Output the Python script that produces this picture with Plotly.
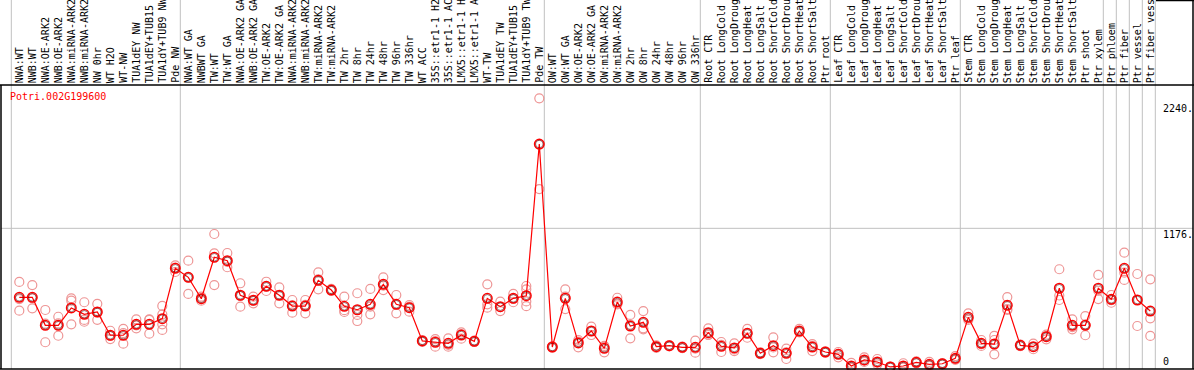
import plotly.graph_objects as go

categories = [
    "NWA:WT", "NWB:WT", "NWA:OE-ARK2", "NWB:OE-ARK2", "NWA:miRNA-ARK2", "NWB:miRNA-ARK2",
    "NW 0hr", "WT H2O", "WT-NW", "TUA1dEY NW", "TUA1dEY+TUB15", "TUA1dY+TUB9 NW", "Pde NW",
    "NWA:WT GA", "NWBWT GA", "TW:WT", "TW:WT GA", "NWA:OE-ARK2 GA", "NWB:OE-ARK2 GA",
    "TW:OE-ARK2", "TW:OE-ARK2 GA", "NWA:miRNA-ARK2", "NWB:miRNA-ARK2", "TW:miRNA-ARK2",
    "TW:miRNA-ARK2", "TW 2hr", "TW 8hr", "TW 24hr", "TW 48hr", "TW 96hr", "TW 336hr",
    "WT ACC", "35S::etr1-1 H2O", "35S::etr1-1 ACC", "LMX5::etr1-1 H2O", "LMX5::etr1-1 ACC",
    "WT-TW", "TUA1dEY TW", "TUA1dEY+TUB15", "TUA1dY+TUB9 TW", "Pde TW",
    "OW:WT", "OW:WT GA", "OW:OE-ARK2", "OW:OE-ARK2 GA", "OW:miRNA-ARK2", "OW:miRNA-ARK2",
    "OW 2hr", "OW 8hr", "OW 24hr", "OW 48hr", "OW 96hr", "OW 336hr",
    "Root CTR", "Root LongCold", "Root LongDrought", "Root LongHeat", "Root LongSalt",
    "Root ShortCold", "Root ShortDrought", "Root ShortHeat", "Root ShortSalt", "Ptr root",
    "Leaf CTR", "Leaf LongCold", "Leaf LongDrought", "Leaf LongHeat", "Leaf LongSalt",
    "Leaf ShortCold", "Leaf ShortDrought", "Leaf ShortHeat", "Leaf ShortSalt", "Ptr leaf",
    "Stem CTR", "Stem LongCold", "Stem LongDrought", "Stem LongHeat", "Stem LongSalt",
    "Stem ShortCold", "Stem ShortDrought", "Stem ShortHeat", "Stem ShortSalt", "Ptr shoot",
    "Ptr xylem", "Ptr phloem", "Ptr fiber", "Ptr vessel", "Ptr fiber vessel",
]

means = [
    595, 595, 359, 359, 505, 451, 471, 275, 275, 367, 367, 415, 839,
    763, 583, 932, 903, 612, 570, 687, 612, 521, 521, 738, 656, 519, 490, 536, 704, 536, 507,
    227, 216, 207, 277, 224, 586, 516, 586, 608, 1886,
    176, 586, 210, 311, 165, 555, 353, 384, 179, 187, 173, 173,
    297, 182, 168, 291, 123, 187, 123, 311, 176, 134,
    114, 16, 67, 50, 8, 16, 47, 30, 35, 81,
    426, 207, 201, 527, 190, 179, 263, 671, 359, 359,
    671, 578, 839, 572, 479,
]

replicates = [
    [724, 482, 580], [698, 502, 585], [488, 216, 373], [431, 271, 375],
    [586, 566, 367], [553, 404, 389], [540, 468, 405], [313, 243, 269],
    [328, 204, 293], [409, 333, 359], [409, 288, 404], [522, 451, 367, 320],
    [864, 845, 808],
    [903, 623, 763], [600, 583, 566], [1128, 965, 698], [968, 848, 893],
    [713, 516, 607], [600, 544, 566], [726, 648, 687], [679, 544, 613],
    [572, 465, 526], [572, 460, 531], [805, 662, 747], [665, 656, 648],
    [600, 471, 486], [629, 446, 395], [665, 516, 451], [763, 656, 693],
    [614, 460, 534], [530, 474, 517], [235, 227, 219], [243, 179, 226],
    [249, 179, 193], [300, 246, 285], [230, 224, 218], [704, 536, 507],
    [558, 479, 511], [623, 553, 582], [690, 662, 560, 520], [2271, 1880, 1507],
    [182, 176, 170], [662, 496, 600], [235, 173, 221], [347, 277, 309],
    [185, 131, 179], [591, 536, 539], [446, 249, 364], [479, 333, 325],
    [190, 179, 168], [193, 187, 181], [180, 173, 166], [229, 128, 162],
    [333, 277, 281], [218, 134, 194], [207, 142, 155], [328, 254, 291],
    [130, 123, 116], [258, 131, 172], [162, 75, 132], [328, 300, 305],
    [201, 142, 185], [140, 134, 128],
    [134, 89, 119], [42, 6, 0], [89, 50, 62], [75, 30, 45], [12, 8, 4],
    [39, 5, 4], [55, 47, 39], [50, 16, 24], [40, 35, 30], [100, 67, 76],
    [460, 404, 414], [235, 185, 201], [269, 235, 114], [597, 488, 496],
    [196, 190, 184], [204, 176, 157], [280, 241, 268], [831, 572, 610],
    [409, 325, 343], [437, 275, 365],
    [783, 650, 580], [614, 549, 571], [971, 802, 741], [791, 353, 572],
    [746, 418, 269],
]

gene_title = "Potri.002G199600"
y_tick_values = [2240, 1176, 0]
y_tick_labels = ["2240.", "1176.", "0"]
separators_after = [-1, 12, 40, 52, 62, 72, 83, 84, 85, 86, 87]

W, H = 1194, 370
FONT = "DejaVu Sans Mono"

def py(pix):  # paper y from pixel row
    return (H - pix) / H

def px(pix):
    return pix / W

x_idx = list(range(len(categories)))
rep_x, rep_y = [], []
for i, reps in enumerate(replicates):
    for v in reps:
        rep_x.append(i)
        rep_y.append(v)

fig = go.Figure()
fig.add_trace(go.Scatter(
    x=rep_x, y=rep_y, mode="markers",
    marker=dict(symbol="circle-open", size=9, color="rgb(238,150,150)",
                line=dict(width=1.2, color="rgb(238,150,150)")),
    hoverinfo="skip", showlegend=False))
fig.add_trace(go.Scatter(
    x=x_idx, y=means, mode="lines",
    line=dict(color="red", width=1.2), showlegend=False))
fig.add_trace(go.Scatter(
    x=x_idx, y=means, mode="markers",
    marker=dict(symbol="circle-open", size=9.5, color="red",
                line=dict(width=1.5, color="red")),
    showlegend=False))
fig.add_trace(go.Scatter(
    x=x_idx, y=means, mode="markers",
    marker=dict(symbol="circle-open", size=7.5, color="rgb(60,0,0)",
                line=dict(width=0.5, color="rgb(60,0,0)")),
    showlegend=False))

shapes = []
grey = "rgb(192,192,192)"
for s in separators_after:
    shapes.append(dict(type="line", xref="x", yref="paper", x0=s + 0.385, x1=s + 0.385,
                       y0=py(369), y1=1, line=dict(color=grey, width=1), layer="below"))
shapes.append(dict(type="line", xref="paper", yref="y", x0=px(1), x1=px(1193),
                   y0=1176, y1=1176, line=dict(color=grey, width=1), layer="below"))
black = dict(color="black", width=1.5)
shapes += [
    dict(type="line", xref="paper", yref="paper", x0=0, x1=1, y0=py(85), y1=py(85), line=black),
    dict(type="line", xref="paper", yref="paper", x0=0, x1=1, y0=py(369), y1=py(369), line=black),
    dict(type="line", xref="paper", yref="paper", x0=px(1), x1=px(1), y0=py(369), y1=py(85), line=black),
    dict(type="line", xref="paper", yref="paper", x0=px(1193), x1=px(1193), y0=py(369), y1=1, line=black),
    dict(type="line", xref="paper", yref="paper", x0=px(1156), x1=1, y0=py(0.5), y1=py(0.5), line=black),
]

annotations = []
for i, c in enumerate(categories):
    annotations.append(dict(x=i, xref="x", y=py(84), yref="paper", text=c, textangle=-90,
                            xanchor="center", yanchor="bottom", showarrow=False, xshift=0,
                            font=dict(family=FONT, size=10, color="black"), borderpad=0))
annotations.append(dict(x=px(9), xref="paper", y=py(90), yref="paper", text=gene_title,
                        xanchor="left", yanchor="top", showarrow=False, borderpad=0,
                        font=dict(family=FONT, size=10, color="red")))
for v, t in zip(y_tick_values, y_tick_labels):
    annotations.append(dict(x=px(1162), xref="paper", y=v, yref="y", text=t,
                            xanchor="left", yanchor="bottom" if v == 0 else "top",
                            showarrow=False, borderpad=0,
                            font=dict(family=FONT, size=10, color="black")))

fig.update_layout(
    width=W, height=H, autosize=False,
    margin=dict(l=0, r=0, t=0, b=0),
    paper_bgcolor="white", plot_bgcolor="white",
    xaxis=dict(range=[-19.3 / 13, (W - 19.3) / 13], visible=False, fixedrange=True),
    yaxis=dict(range=[-(H - 367.9) * 8.425, 367.9 * 8.425], visible=False, fixedrange=True),
    shapes=shapes, annotations=annotations, showlegend=False,
)

fig.write_html("out.html", config={"displayModeBar": False},
               post_script="document.body.style.margin='0';document.body.style.overflow='hidden';")
